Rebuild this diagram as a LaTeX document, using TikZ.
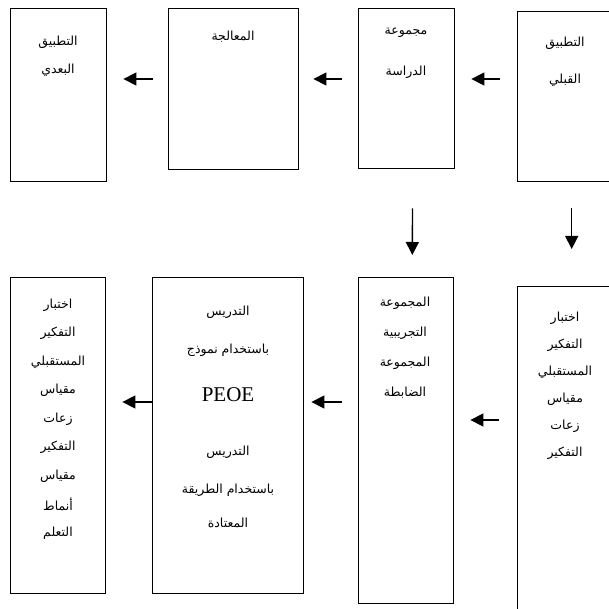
\documentclass[tikz,border=0pt]{standalone}
\usepackage{fontspec}
\setmainfont{Liberation Serif}
\newfontfamily\arabicfont[Script=Arabic]{DejaVu Sans}
\TeXXeTstate=1
\usetikzlibrary{arrows.meta}
\newcommand{\ar}[1]{{\arabicfont\beginR #1\endR}}

\begin{document}
\begin{tikzpicture}[x=1pt, y=-1pt, >={Triangle[length=13pt,width=13pt]}, line width=1.4pt]
    \tikzstyle{box}=[draw, rectangle, anchor=north west, inner sep=0pt]
    \tikzstyle{word}=[font=\fontsize{12.5}{14}\selectfont, inner sep=0pt]
    \useasboundingbox (0,0) rectangle (608,609);

    % draw boxes

    \node [box, minimum width=96, minimum height=170] (b1) at (517,11) {};
    \node [box, minimum width=96, minimum height=160] (b2) at (358,8) {};
    \node [box, minimum width=130, minimum height=161] (b3) at (168,8) {};
    \node [box, minimum width=96, minimum height=173] (b4) at (10,8) {};

    \node [box, minimum width=96, minimum height=340] (c1) at (517,286) {};
    \node [box, minimum width=95, minimum height=326] (c2) at (358,277) {};
    \node [box, minimum width=151, minimum height=316] (c3) at (152,277) {};
    \node [box, minimum width=95, minimum height=316] (c4) at (10,277) {};

    % draw text

    \foreach \l [count=\y from 0] in {التطبيق, القبلي}
    \node [word] (b1-\y) at (565,43+\y*37) {\ar{\l}};

    \foreach \l [count=\y from 0] in {مجموعة, الدراسة}
    \node [word] (b2-\y) at (406,33+\y*39) {\ar{\l}};

    \node [word] (b3-0) at (233,37) {\ar{المعالجة}};

    \foreach \l [count=\y from 0] in {التطبيق, البعدي}
    \node [word] (b4-\y) at (58,42+\y*28) {\ar{\l}};

    \foreach \l [count=\y from 0] in {اختبار, التفكير, المستقبلي, مقياس, زعات, التفكير}
    \node [word] (c1-\y) at (565,318+\y*27) {\ar{\l}};

    \foreach \l [count=\y from 0] in {المجموعة, التجريبية, المجموعة, الضابطة}
    \node [word] (c2-\y) at (405,303+\y*30) {\ar{\l}};

    \foreach \l/\h [count=\y from 0] in {التدريس/312, باستخدام نموذج/350, التدريس/452, باستخدام الطريقة/490, المعتادة/523}
    \node [word] (c3-\y) at (228,\h) {\ar{\l}};
    \node [font=\fontsize{21}{24}\selectfont, inner sep=0pt] (peoe) at (228,395) {PEOE};

    \foreach \l [count=\y from 0] in {اختبار, التفكير, المستقبلي, مقياس, زعات, التفكير, مقياس, أنماط, التعلم}
    \node [word] (c4-\y) at (58,305+\y*28.5) {\ar{\l}};

    % draw arrows

    \coordinate (top) at (0,79);
    \coordinate (low) at (0,402);
    \coordinate (mid) at (0,420);

    \draw [->, shorten <=17pt, shorten >=16pt] (b1.west |- top) -- (b2.east |- top);
    \draw [->, shorten <=16pt, shorten >=14pt] (b2.west |- top) -- (b3.east |- top);
    \draw [->, shorten <=15pt, shorten >=16pt] (b3.west |- top) -- (b4.east |- top);

    \draw [->, shorten <=26pt, shorten >=37pt] ([xshift=6pt]b1.south) -- ([xshift=6pt]c1.north);
    \draw [->, shorten <=39pt, shorten >=22pt] ([xshift=6pt]b2.south) -- ([xshift=6pt]c2.north);

    \draw [->, shorten <=18pt, shorten >=16pt] (c1.west |- mid) -- (c2.east |- mid);
    \draw [->, shorten <=16pt, shorten >=7pt] (c2.west |- low) -- (c3.east |- low);
    \draw [->, shorten >=16pt] (c3.west |- low) -- (c4.east |- low);

\end{tikzpicture}
\end{document}
